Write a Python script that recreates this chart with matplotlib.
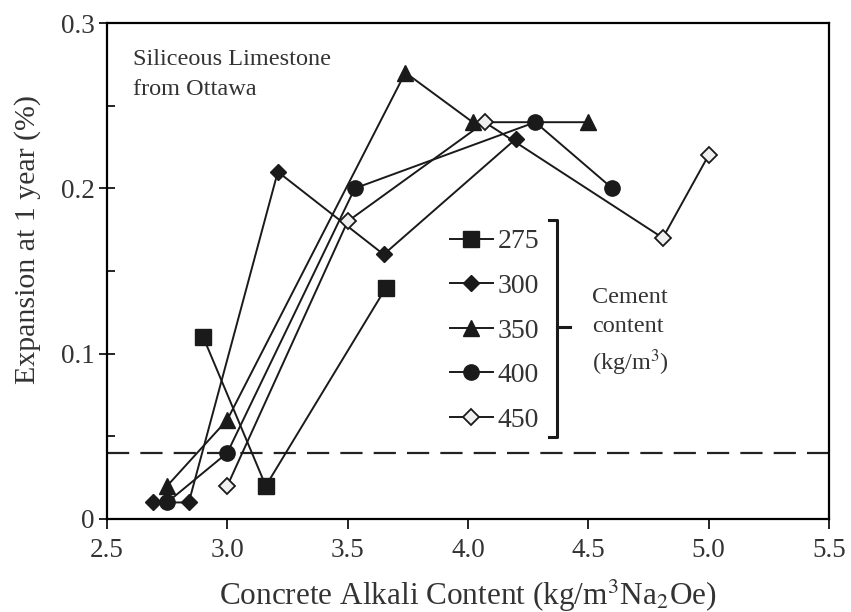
import numpy as np
import matplotlib.pyplot as plt
from matplotlib.ticker import MultipleLocator

plt.rcParams['font.family'] = ['Liberation Serif', 'DejaVu Serif']
plt.rcParams['mathtext.fontset'] = 'stix'

# cement content series (kg/m3) -> (alkali content, expansion at 1 year)
x275 = [2.90, 3.16, 3.66]
y275 = [0.11, 0.02, 0.14]
x300 = [2.69, 2.84, 3.21, 3.65, 4.20]
y300 = [0.01, 0.01, 0.21, 0.16, 0.23]
x350 = [2.75, 3.00, 3.74, 4.02, 4.50]
y350 = [0.02, 0.06, 0.27, 0.24, 0.24]
x400 = [2.75, 3.00, 3.53, 4.28, 4.60]
y400 = [0.01, 0.04, 0.20, 0.24, 0.20]
x450 = [3.00, 3.50, 4.07, 4.81, 5.00]
y450 = [0.02, 0.18, 0.24, 0.17, 0.22]
labels = ['275', '300', '350', '400', '450']
limit = 0.04

txt = '#333333'
fig = plt.figure(figsize=(8.51, 6.12), dpi=100)
ax = fig.add_axes([0.1257, 0.152, 0.974 - 0.1257, 0.9624 - 0.152])

ax.axhline(limit, color='#222222', lw=1.6, ls=(0, (10, 5)), zorder=1)

kw = dict(color='#1a1a1a', lw=1.4, markeredgecolor='#1a1a1a', zorder=3)
h1, = ax.plot(x275, y275, marker='s', ms=12, markerfacecolor='#1a1a1a', **kw)
h2, = ax.plot(x300, y300, marker='D', ms=8.5, markerfacecolor='#1a1a1a', **kw)
h3, = ax.plot(x350, y350, marker='^', ms=11.5, markerfacecolor='#1a1a1a', **kw)
h4, = ax.plot(x400, y400, marker='o', ms=11, markerfacecolor='#1a1a1a', **kw)
h5, = ax.plot(x450, y450, marker='D', ms=8.5, markerfacecolor='#f0f0f0', mew=1.3, **kw)

ax.set_xlim(2.5, 5.5)
ax.set_ylim(0, 0.3)
ax.yaxis.set_minor_locator(MultipleLocator(0.05))
ax.set_xticks([2.5, 3.0, 3.5, 4.0, 4.5, 5.0, 5.5])
ax.set_xticklabels(['2.5', '3.0', '3.5', '4.0', '4.5', '5.0', '5.5'])
ax.set_yticks([0, 0.1, 0.2, 0.3])
ax.set_yticklabels(['0', '0.1', '0.2', '0.3'])
ax.tick_params(axis='x', direction='out', length=7, width=1.2, labelsize=19.5,
               labelcolor=txt, pad=7)
ax.tick_params(axis='y', which='major', direction='inout', length=12, width=1.2,
               labelsize=19.5, labelcolor=txt, pad=3)
ax.tick_params(axis='y', which='minor', direction='in', length=6, width=1.2)
for s in ax.spines.values():
    s.set_linewidth(1.6)

ax.set_xlabel(r'Concrete Alkali Content (kg/m$^{3}$Na$_2$Oe)', fontsize=22.5,
              color=txt, labelpad=10)
ax.set_ylabel('Expansion at 1 year (%)', fontsize=21.5, color=txt)
ax.yaxis.set_label_coords(-0.092, 0.5625)

ax.text(0.036, 0.948, 'Siliceous Limestone\nfrom Ottawa', transform=ax.transAxes,
        fontsize=17.5, color=txt, va='top', ha='left', linespacing=1.55)

leg = ax.legend([h1, h2, h3, h4, h5], labels, loc='upper left',
                bbox_to_anchor=(0.475, 0.585), frameon=False, fontsize=20,
                handlelength=1.55, handletextpad=0.18, labelspacing=0.69,
                borderaxespad=0, borderpad=0, labelcolor=txt)

# bracket for the legend
ax.plot([0.612, 0.623, 0.623, 0.612], [0.603, 0.603, 0.165, 0.165],
        transform=ax.transAxes, color='#1a1a1a', lw=2.2)
ax.plot([0.623, 0.641], [0.387, 0.387], transform=ax.transAxes,
        color='#1a1a1a', lw=2.2)
ax.text(0.672, 0.376, 'Cement\ncontent\n(kg/m$^3$)', transform=ax.transAxes,
        fontsize=17.5, color=txt, va='center', ha='left', linespacing=1.45)

fig.savefig('out.png', dpi=100)
